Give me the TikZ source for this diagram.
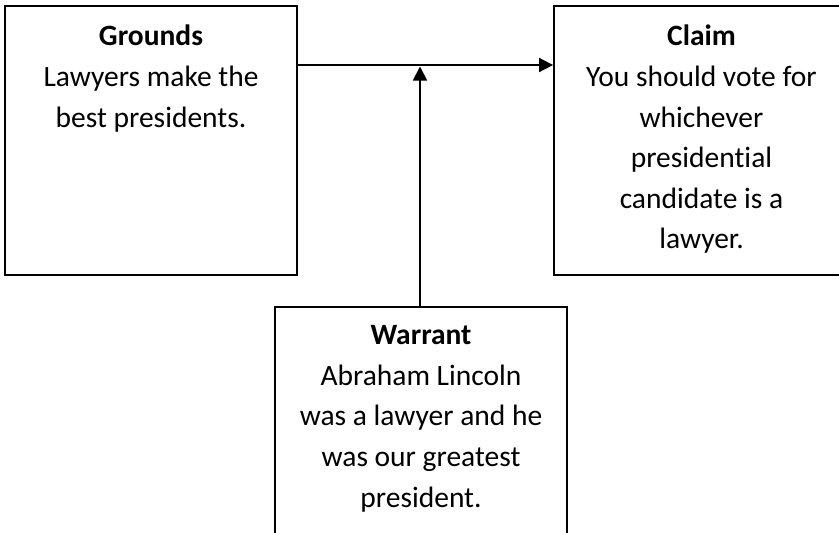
\documentclass[tikz,border=0pt]{standalone}
\usepackage{fontspec}
\setmainfont{Carlito}[Ligatures=NoCommon]
\usetikzlibrary{arrows.meta}
\begin{document}
\begin{tikzpicture}[x=1pt,y=-1pt,
  boxstyle/.style={draw=black,line width=1.8pt,rectangle,inner sep=0pt},
  txtstyle/.style={anchor=north,align=center,inner sep=0pt,font=\fontsize{29.5}{40.6}\selectfont},
  arr/.style={line width=1.8pt,-{Triangle[length=14pt,width=14pt]}}]
\useasboundingbox (0,0) rectangle (839,533);
\clip (0,0) rectangle (839,533);
\node[boxstyle,minimum width=292pt,minimum height=269pt] (g) at (151,140.5) {};
\node[boxstyle,minimum width=295pt,minimum height=269pt] (c) at (701.5,140.5) {};
\node[boxstyle,minimum width=292pt,minimum height=269pt] (w) at (421,441.5) {};
\node[txtstyle] (gt) at (151,25) {\rule{0pt}{20pt}\textbf{Grounds}\\Lawyers make the\\best presidents.};
\node[txtstyle] (ct) at (701.5,25) {\rule{0pt}{20pt}\textbf{Claim}\\You should vote for\\whichever\\presidential\\candidate is a\\lawyer.};
\node[txtstyle] (wt) at (421,324.5) {\rule{0pt}{20pt}\textbf{Warrant}\\Abraham Lincoln\\was a lawyer and he\\was our greatest\\president.};
\coordinate (j) at (420,65);
\coordinate (jb) at (420,66.5);
\draw[arr] (g.east |- j) -- (c.west |- j);
\draw[arr] ([xshift=-1pt]w.north) -- ([xshift=-1pt]w.north |- jb);
\end{tikzpicture}
\end{document}
